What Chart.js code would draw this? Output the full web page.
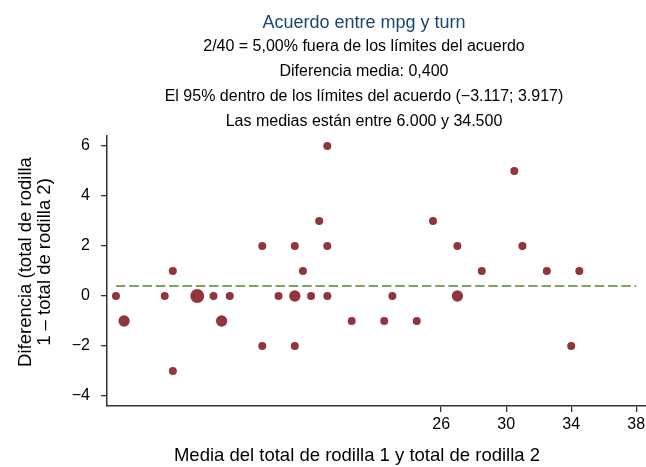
<!DOCTYPE html>
<html lang="es">
<head>
<meta charset="utf-8">
<title>Acuerdo entre mpg y turn</title>
<script src="https://cdn.jsdelivr.net/npm/chart.js@4.4.1/dist/chart.umd.min.js"></script>
<style>
  html, body { margin: 0; padding: 0; background: #fff; }
  #grafico { display: block; }
</style>
</head>
<body>
<canvas id="grafico" width="646" height="467"></canvas>
<script>
// Datos (media, diferencia y número de observaciones por punto)
const medias = [6, 6.5, 9, 9.5, 9.5, 11, 12, 12.5, 13, 15, 15, 16, 17, 17, 17, 17.5, 18, 18.5, 19, 19, 19, 20.5,
  22.5, 23, 24.5, 25.5, 27, 27, 28.5, 30.5, 31, 32.5, 34, 34.5];
const diferencias = [0, -1, 0, 1, -3, 0, 0, -1, 0, 2, -2, 0, 0, 2, -2, 1, 0, 3, 6, 2, 0, -1,
  -1, 0, -1, 3, 2, 0, 1, 5, 2, 1, -2, 1];
const frecuencias = [1, 2, 1, 1, 1, 3, 1, 2, 1, 1, 1, 1, 2, 1, 1, 1, 1, 1, 1, 1, 1, 1,
  1, 1, 1, 1, 1, 2, 1, 1, 1, 1, 1, 1];

// Línea de la diferencia media
const diferenciaMedia = 0.4;
const lineaMediaX = [6, 38];

// Marcas de los ejes
const ticksX = [26, 30, 34, 38];
const ticksY = [-4, -2, 0, 2, 4, 6];

const titulo = 'Acuerdo entre mpg y turn';
const subtitulos = [
  '2/40 = 5,00% fuera de los límites del acuerdo',
  'Diferencia media: 0,400',
  'El 95% dentro de los límites del acuerdo (\u22123.117; 3.917)',
  'Las medias están entre 6.000 y 34.500'
];
const tituloX = 'Media del total de rodilla 1 y total de rodilla 2';
const tituloY = ['Diferencia (total de rodilla', '1 \u2013 total de rodilla 2)'];

const fuente = '"Liberation Sans", Arial, Helvetica, sans-serif';
Chart.defaults.font.family = fuente;
Chart.defaults.color = '#000';

const colorEje = '#333333';

// Títulos dibujados a mano: Stata no los centra sobre el lienzo ni sobre el área del gráfico
const textosStata = {
  id: 'textosStata',
  afterDraw(chart) {
    const ctx = chart.ctx;
    ctx.save();
    ctx.textAlign = 'center';
    ctx.textBaseline = 'middle';

    ctx.fillStyle = '#1a476f';
    ctx.font = '18px ' + fuente;
    ctx.fillText(titulo, 364, 23.5);

    ctx.fillStyle = '#000';
    ctx.font = '16px ' + fuente;
    subtitulos.forEach((linea, i) => ctx.fillText(linea, 364, 47 + i * 25));

    ctx.font = '18.5px ' + fuente;
    ctx.fillText(tituloX, 357, 456);

    ctx.translate(26, 262);
    ctx.rotate(-Math.PI / 2);
    tituloY.forEach((linea, i) => ctx.fillText(linea, 0, i * 18.5));
    ctx.restore();
  }
};

const ctx = document.getElementById('grafico').getContext('2d');

new Chart(ctx, {
  type: 'scatter',
  data: {
    datasets: [
      {
        label: 'Diferencias',
        data: medias.map((m, i) => ({ x: m, y: diferencias[i] })),
        backgroundColor: '#90353b',
        borderWidth: 0,
        pointRadius: frecuencias.map(f => 4 * Math.sqrt(f)),
        pointHoverRadius: frecuencias.map(f => 4 * Math.sqrt(f)),
        order: 1
      },
      {
        type: 'line',
        label: 'Diferencia media',
        data: lineaMediaX.map(x => ({ x: x, y: diferenciaMedia })),
        borderColor: '#55862a',
        borderWidth: 1.4,
        borderDash: [9.5, 3.8],
        pointRadius: 0,
        fill: false,
        order: 2
      }
    ]
  },
  options: {
    responsive: false,
    animation: false,
    events: [],
    layout: { autoPadding: false, padding: { left: 0, right: 0, top: 136, bottom: 0 } },
    plugins: {
      legend: { display: false },
      tooltip: { enabled: false },
      title: { display: false },
      subtitle: { display: false }
    },
    scales: {
      x: {
        type: 'linear',
        min: 5.45,
        max: 38.6,
        afterBuildTicks: scale => { scale.ticks = ticksX.map(v => ({ value: v })); },
        afterFit: scale => {
          scale.height = 61;
          // el eje llega hasta el borde derecho, como en el original
          scale.paddingLeft = 0;
          scale.paddingRight = 0;
        },
        grid: { display: true, drawOnChartArea: false, color: colorEje, lineWidth: 1.3, tickLength: 6 },
        border: { display: true, color: colorEje, width: 1.5 },
        ticks: {
          font: { size: 16 },
          color: '#000',
          padding: 2.5,
          maxRotation: 0,
          autoSkip: false,
          callback: v => String(v).replace('-', '\u2212')
        }
      },
      y: {
        type: 'linear',
        min: -4.4,
        max: 6.4,
        afterBuildTicks: scale => { scale.ticks = ticksY.map(v => ({ value: v })); },
        afterFit: scale => { scale.width = 107; },
        grid: { display: true, drawOnChartArea: false, color: colorEje, lineWidth: 1.3, tickLength: 6 },
        border: { display: true, color: colorEje, width: 1.5 },
        ticks: {
          font: { size: 16 },
          color: '#000',
          padding: 11,
          autoSkip: false,
          callback: v => String(v).replace('-', '\u2212')
        }
      }
    }
  },
  plugins: [textosStata]
});
</script>
</body>
</html>
